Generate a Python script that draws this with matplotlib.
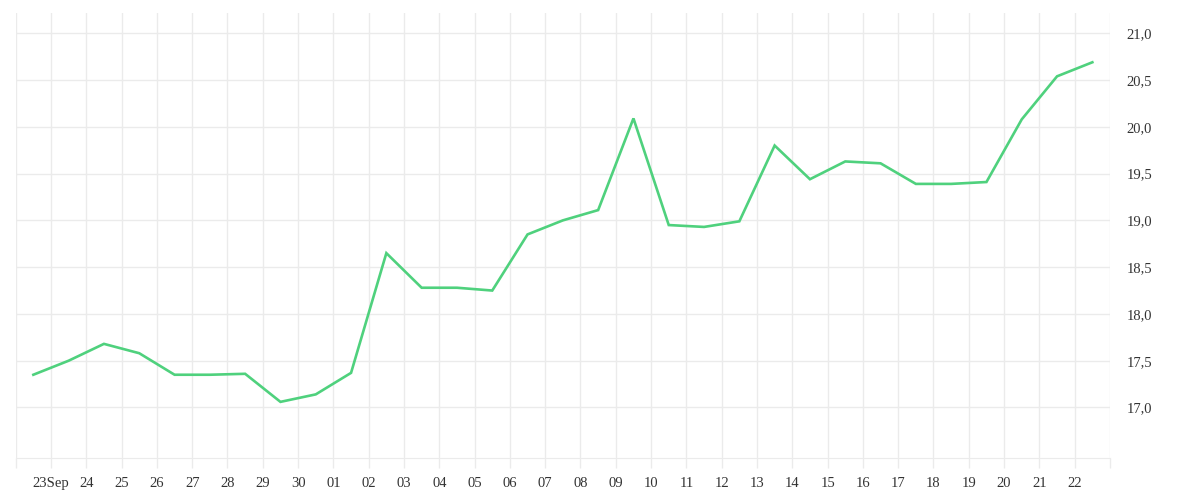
import pandas as pd
import matplotlib.pyplot as plt
import matplotlib.dates as mdates

# daily values, 22 Sep - 22 Oct (plotted at midday)
dates = pd.date_range("2023-09-22 12:00", periods=31, freq="D")
values = [17.35, 17.50, 17.68, 17.58, 17.35, 17.35, 17.36, 17.06, 17.14, 17.37,
          18.65, 18.28, 18.28, 18.25, 18.85, 19.00, 19.11, 20.09, 18.95, 18.93,
          18.99, 19.80, 19.44, 19.63, 19.61, 19.39, 19.39, 19.41, 20.08, 20.54,
          20.69]

# day gridlines (midnight) and their labels
day_ticks = pd.date_range("2023-09-22", "2023-10-23", freq="D")
day_labels = ["", "23Sep", "24", "25", "26", "27", "28", "29", "30",
              "01", "02", "03", "04", "05", "06", "07", "08", "09", "10",
              "11", "12", "13", "14", "15", "16", "17", "18", "19", "20",
              "21", "22", ""]
y_ticks = [17.0, 17.5, 18.0, 18.5, 19.0, 19.5, 20.0, 20.5, 21.0]

grid_col = "#ebebeb"
text_col = "#333333"
plt.rcParams["font.family"] = ["Liberation Serif", "DejaVu Serif"]

fig = plt.figure(figsize=(12, 5), dpi=100)
ax = fig.add_axes([15.7 / 1200, 42 / 500, (1110 - 15.7) / 1200, (458 - 12.7) / 500])

ax.plot(dates, values, color="#4fd17d", linewidth=1.9, solid_joinstyle="miter")

ax.set_xlim(day_ticks[0], day_ticks[-1])
ax.set_ylim(16.46, 21.22)

ax.set_xticks(day_ticks)
ax.set_xticklabels(day_labels)
ax.set_yticks(y_ticks)
ax.set_yticklabels([f"{v:.1f}".replace(".", ",") for v in y_ticks])

ax.yaxis.tick_right()
ax.tick_params(axis="y", length=0, pad=12, labelsize=10.5, labelcolor=text_col)
ax.tick_params(axis="x", length=7.5, width=1, color=grid_col, pad=6,
               labelsize=10.5, labelcolor=text_col)
for lab in ax.get_yticklabels():
    lab.set_horizontalalignment("left")

ax.grid(True, color=grid_col, linewidth=1)
ax.set_axisbelow(True)
for side in ["top", "left", "right"]:
    ax.spines[side].set_visible(False)
ax.spines["bottom"].set_color(grid_col)

fig.savefig("out.png", dpi=100)
